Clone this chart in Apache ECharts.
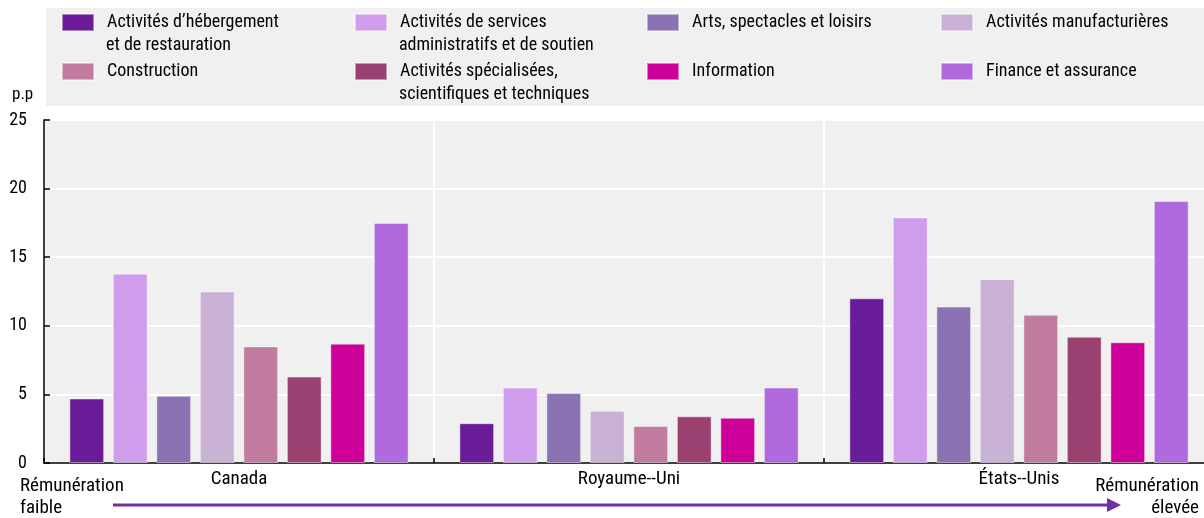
<!DOCTYPE html>
<html>
<head>
<meta charset="utf-8">
<script src="https://cdn.jsdelivr.net/npm/echarts@6/dist/echarts.min.js"></script>
<style>
  html, body { margin: 0; padding: 0; background: #fff; }
  #chart { width: 1204px; height: 518px; }
</style>
</head>
<body>
<div id="chart"></div>
<script>
// Countries on the category axis
const countries = ['Canada', 'Royaume--Uni', 'États--Unis'];

// Sector names (legend order); second entry is the wrapped continuation line
const sectorLines = [
  ['Activités d’hébergement', 'et de restauration'],
  ['Activités de services', 'administratifs et de soutien'],
  ['Arts, spectacles et loisirs', ''],
  ['Activités manufacturières', ''],
  ['Construction', ''],
  ['Activités spécialisées,', 'scientifiques et techniques'],
  ['Information', ''],
  ['Finance et assurance', '']
];

// Values (p.p) per sector, one entry per country
const hebergement     = [4.7, 2.9, 12.0];
const servicesAdmin   = [13.8, 5.5, 17.9];
const arts            = [4.9, 5.1, 11.4];
const manufacturieres = [12.5, 3.8, 13.4];
const construction    = [8.5, 2.7, 10.8];
const specialisees    = [6.3, 3.4, 9.2];
const information     = [8.7, 3.3, 8.8];
const finance         = [17.5, 5.5, 19.1];

const seriesValues = [hebergement, servicesAdmin, arts, manufacturieres,
                      construction, specialisees, information, finance];

const colors = ['#6A1C98', '#D09CEC', '#8B73B3', '#C8B1D5',
                '#C17B9F', '#9A4172', '#CC0099', '#B06ADE'];

// Y-axis ticks
const yMin = 0, yMax = 25, yStep = 5;

const FONT = '"Roboto Condensed", "Liberation Sans", Arial, sans-serif';
const ARROW = '#7030A0';
const FS = 19;
const LEGEND_FS = 18;

// Legend laid out as a 4 x 2 grid
const legendCols = [61, 354, 646, 940];
const legendRows = [13, 62];
const SWATCH_W = 32, SWATCH_H = 17, TEXT_OFFSET = 45, LINE_STEP = 24;

const seriesNames = sectorLines.map(l => l[1] ? l[0] + ' ' + l[1] : l[0]);

const legends = seriesNames.map((name, i) => ({
  data: [name],
  left: legendCols[i % 4],
  top: legendRows[Math.floor(i / 4)],
  padding: 0,
  itemWidth: SWATCH_W,
  itemHeight: SWATCH_H,
  icon: 'rect',
  selectedMode: false,
  formatter: () => sectorLines[i][0],
  textStyle: {
    fontFamily: FONT,
    fontSize: LEGEND_FS,
    color: '#000',
    padding: [0, 0, 0, TEXT_OFFSET - SWATCH_W - 5]
  }
}));

// Continuation lines of wrapped legend labels
const legendSecondLines = sectorLines
  .map((l, i) => ({ l, i }))
  .filter(o => o.l[1])
  .map(o => ({
    type: 'text',
    style: {
      x: legendCols[o.i % 4] + TEXT_OFFSET,
      y: legendRows[Math.floor(o.i / 4)] + SWATCH_H / 2 + LINE_STEP,
      text: o.l[1],
      font: LEGEND_FS + 'px ' + FONT,
      fill: '#000',
      verticalAlign: 'middle'
    }
  }));

const series = seriesNames.map((name, i) => ({
  name: name,
  type: 'bar',
  data: seriesValues[i],
  barGap: '25%',
  barCategoryGap: '13%',
  itemStyle: {
    color: colors[i],
    borderColor: 'rgba(255,255,255,0.45)',
    borderWidth: 1
  }
}));

const chart = echarts.init(document.getElementById('chart'), null, { renderer: 'canvas' });

chart.setOption({
  animation: false,
  color: colors,
  legend: legends,
  grid: {
    left: 44,
    width: 1170,
    top: 120,
    bottom: 55,
    outerBoundsMode: 'none',
    containLabel: false,
    show: true,
    backgroundColor: '#F0F0F0',
    borderWidth: 0
  },
  xAxis: {
    type: 'category',
    data: countries,
    axisLine: { show: true, lineStyle: { color: '#000', width: 1.5 } },
    axisTick: { show: true, inside: true, length: 5, lineStyle: { color: '#000', width: 1.5 } },
    axisLabel: { color: '#000', fontFamily: FONT, fontSize: FS, margin: 7 },
    splitLine: { show: true, lineStyle: { color: '#fff', width: 2 } }
  },
  yAxis: {
    type: 'value',
    min: yMin,
    max: yMax,
    interval: yStep,
    axisLine: { show: true, lineStyle: { color: '#000', width: 1.5 } },
    axisTick: { show: true, inside: true, length: 6, lineStyle: { color: '#000', width: 1.5 } },
    axisLabel: { color: '#000', fontFamily: FONT, fontSize: 18, margin: 17 },
    splitLine: { show: true, lineStyle: { color: '#fff', width: 2 } }
  },
  graphic: [
    // legend panel background
    { type: 'rect', z: -10, shape: { x: 46, y: 8, width: 1158, height: 98 }, style: { fill: '#F0F0F0' } },
    // unit label
    { type: 'text', style: { x: 12, y: 95, text: 'p.p', font: '17px ' + FONT, fill: '#000', verticalAlign: 'middle' } },
    // pay-level annotations
    { type: 'text', style: { x: 20, y: 475, text: 'Rémunération\nfaible', font: FS + 'px ' + FONT, fill: '#000', lineHeight: 22 } },
    { type: 'text', style: { x: 1199, y: 475, text: 'Rémunération\nélevée', font: FS + 'px ' + FONT, fill: '#000', lineHeight: 22, align: 'right' } },
    // arrow from low to high pay
    { type: 'line', shape: { x1: 113, y1: 505, x2: 1110, y2: 505 }, style: { stroke: ARROW, lineWidth: 3 } },
    { type: 'polygon', shape: { points: [[1107, 498], [1121, 505], [1107, 512]] }, style: { fill: ARROW } }
  ].concat(legendSecondLines),
  series: series
});
</script>
</body>
</html>
